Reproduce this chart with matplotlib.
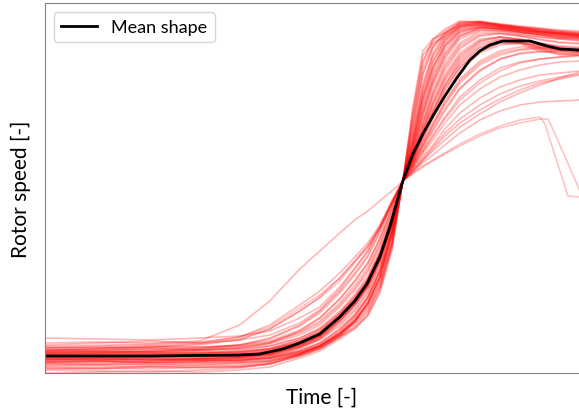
import matplotlib
matplotlib.use("Agg")
import matplotlib.pyplot as plt

plt.rcParams['font.family'] = ['Lato', 'DejaVu Sans']

# time axis (arbitrary units), shared by the shapes
time = [0, 55, 105, 155, 195, 225, 255, 275, 295, 310, 323, 335, 347,
        358, 368, 378, 388, 400, 415, 435, 455, 475, 495, 515, 535]

# individual normalised rotor speed shapes
shape_01 = [0, 1, 2, 1, 3, 6, 15, 22, 34, 44, 58, 82, 124, 192, 262, 318, 330, 336, 346, 350, 347, 345, 343, 341, 340]
shape_02 = [5, 4, 6, 5, 6, 9, 17, 24, 36, 46, 60, 85, 127, 192, 250, 305, 328, 340, 350, 352, 349, 346, 344, 342, 340]
shape_03 = [3, 2, 1, 3, 5, 9, 19, 27, 40, 52, 68, 92, 132, 192, 240, 290, 320, 338, 349, 350, 347, 345, 342, 340, 339]
shape_04 = [8, 9, 8, 10, 10, 12, 18, 25, 37, 51, 69, 95, 137, 192, 232, 278, 310, 333, 346, 348, 346, 343, 341, 339, 338]
shape_05 = [11, 12, 10, 12, 13, 15, 21, 28, 40, 53, 70, 95, 136, 192, 226, 268, 300, 326, 342, 347, 345, 342, 340, 338, 337]
shape_06 = [14, 13, 14, 12, 14, 15, 20, 26, 38, 52, 70, 96, 138, 192, 222, 260, 292, 318, 337, 345, 344, 342, 340, 337, 336]
shape_07 = [16, 15, 16, 17, 16, 18, 23, 30, 44, 58, 76, 102, 142, 192, 218, 252, 283, 310, 330, 342, 342, 340, 338, 336, 335]
shape_08 = [12, 13, 12, 14, 15, 18, 27, 36, 54, 70, 88, 114, 149, 192, 216, 248, 278, 305, 326, 338, 340, 338, 336, 334, 333]
shape_09 = [15, 16, 17, 16, 17, 20, 27, 36, 52, 68, 86, 112, 148, 192, 214, 240, 266, 292, 314, 330, 334, 333, 330, 326, 324]
shape_10 = [17, 17, 18, 17, 18, 21, 30, 38, 55, 71, 89, 115, 150, 192, 215, 238, 262, 288, 310, 326, 332, 330, 324, 318, 318]
shape_11 = [19, 18, 19, 20, 20, 23, 31, 40, 57, 73, 91, 117, 152, 192, 213, 236, 258, 284, 306, 322, 330, 329, 322, 319, 320]
shape_12 = [20, 21, 20, 19, 21, 24, 30, 39, 56, 72, 90, 116, 151, 192, 216, 242, 270, 296, 318, 332, 336, 334, 330, 327, 326]
shape_13 = [21, 22, 21, 22, 23, 27, 35, 44, 60, 76, 94, 120, 154, 192, 210, 230, 250, 272, 294, 312, 322, 326, 326, 324, 322]
shape_14 = [24, 23, 25, 24, 26, 30, 40, 50, 68, 85, 103, 128, 160, 192, 208, 226, 244, 264, 285, 303, 314, 320, 322, 322, 321]
shape_15 = [26, 25, 27, 26, 28, 32, 43, 55, 74, 92, 110, 135, 165, 192, 207, 222, 238, 256, 276, 293, 305, 311, 314, 316, 318]
shape_16 = [22, 24, 23, 25, 28, 34, 47, 60, 80, 98, 116, 140, 168, 192, 205, 219, 233, 250, 268, 284, 296, 303, 308, 311, 312]
shape_17 = [18, 20, 22, 24, 28, 35, 48, 62, 82, 100, 118, 142, 170, 192, 204, 216, 228, 244, 260, 275, 286, 293, 298, 300, 302]
shape_18 = [28, 30, 32, 30, 33, 38, 50, 63, 84, 104, 122, 146, 172, 192, 202, 213, 224, 237, 250, 263, 274, 283, 290, 294, 298]
shape_19 = [25, 27, 28, 30, 36, 48, 68, 82, 100, 116, 130, 148, 172, 192, 202, 212, 222, 233, 246, 259, 271, 280, 288, 295, 301]
shape_20 = [23, 25, 26, 29, 34, 44, 62, 76, 95, 112, 126, 146, 170, 192, 201, 210, 218, 228, 240, 253, 262, 268, 271, 272, 273]
shape_21 = [35, 34, 33, 35, 37, 42, 55, 66, 86, 105, 122, 144, 168, 192, 209, 228, 247, 268, 290, 308, 318, 323, 324, 323, 322]
shape_22 = [30, 31, 30, 32, 48, 72, 104, 122, 140, 153, 162, 172, 182, 192, 203, 214, 226, 240, 254, 268, 279, 287, 292, 296, 299]
shape_23 = [13, 15, 13, 14, 13, 16, 21, 27, 39, 51, 66, 90, 130, 192, 255, 310, 332, 342, 351, 351, 348, 345, 342, 340, 338]
shape_24 = [10, 9, 11, 10, 11, 13, 19, 26, 38, 52, 70, 96, 138, 192, 245, 298, 325, 338, 348, 350, 348, 346, 344, 342, 341]
shape_25 = [18, 19, 18, 17, 18, 20, 26, 34, 49, 64, 82, 108, 146, 192, 228, 275, 305, 328, 343, 346, 344, 341, 339, 337, 336]
shape_26 = [16, 17, 16, 17, 18, 21, 28, 37, 53, 69, 87, 113, 149, 192, 220, 256, 288, 314, 334, 343, 342, 339, 336, 334, 332]
shape_27 = [20, 19, 20, 21, 21, 24, 32, 41, 58, 74, 92, 118, 153, 192, 214, 244, 272, 298, 320, 334, 336, 333, 328, 324, 322]
shape_28 = [14, 15, 14, 15, 16, 19, 28, 37, 55, 71, 89, 115, 150, 192, 213, 238, 262, 288, 312, 328, 333, 331, 325, 320, 318]
shape_29 = [25, 26, 25, 26, 27, 31, 41, 52, 70, 88, 106, 131, 162, 192, 211, 232, 254, 278, 302, 320, 328, 330, 328, 326, 325]
shape_30 = [9, 8, 9, 8, 10, 12, 19, 27, 41, 56, 75, 101, 141, 192, 236, 284, 316, 334, 347, 349, 347, 344, 341, 339, 338]
shape_31 = [22, 21, 22, 23, 24, 27, 35, 45, 62, 79, 97, 122, 156, 192, 209, 228, 248, 270, 292, 310, 320, 324, 325, 324, 323]
shape_32 = [7, 7, 6, 8, 8, 11, 19, 27, 39, 50, 64, 88, 129, 192, 258, 312, 334, 344, 352, 351, 348, 346, 344, 341, 339]
shape_33 = [6, 5, 7, 6, 7, 10, 18, 25, 37, 48, 62, 86, 128, 192, 248, 300, 326, 340, 350, 351, 348, 345, 342, 340, 339]
shape_34 = [12, 11, 12, 13, 12, 14, 20, 27, 39, 54, 72, 98, 140, 192, 238, 286, 318, 336, 347, 349, 346, 343, 341, 339, 337]
shape_35 = [4, 5, 4, 6, 6, 9, 17, 24, 36, 45, 57, 80, 122, 192, 266, 322, 334, 340, 348, 351, 349, 347, 345, 343, 342]
shape_36 = [15, 14, 15, 14, 15, 17, 22, 29, 42, 57, 75, 101, 141, 192, 230, 274, 306, 330, 344, 348, 346, 344, 342, 340, 338]
shape_37 = [10, 11, 10, 11, 12, 15, 22, 30, 44, 59, 77, 103, 143, 192, 225, 265, 297, 323, 340, 346, 345, 343, 341, 339, 337]
shape_38 = [17, 16, 17, 18, 17, 19, 25, 33, 47, 62, 80, 106, 145, 192, 221, 258, 290, 316, 336, 344, 343, 341, 339, 336, 335]
shape_39 = [18, 17, 18, 19, 19, 22, 30, 39, 56, 72, 90, 116, 151, 192, 217, 246, 276, 302, 324, 337, 339, 337, 334, 331, 330]
shape_40 = [13, 14, 13, 14, 16, 19, 28, 37, 55, 71, 89, 115, 150, 192, 214, 242, 268, 294, 316, 332, 336, 334, 328, 323, 322]
shape_41 = [21, 20, 21, 20, 22, 25, 33, 42, 59, 75, 93, 119, 153, 192, 212, 236, 260, 286, 308, 325, 332, 331, 326, 322, 321]
shape_42 = [16, 17, 16, 15, 17, 20, 29, 38, 55, 71, 89, 115, 150, 192, 219, 250, 280, 307, 328, 340, 340, 337, 333, 330, 329]
shape_43 = [11, 12, 11, 12, 13, 16, 25, 34, 51, 67, 85, 111, 147, 192, 224, 262, 294, 320, 338, 345, 344, 341, 338, 335, 334]
shape_44 = [19, 20, 19, 20, 21, 24, 33, 43, 60, 77, 95, 120, 154, 192, 212, 234, 256, 282, 305, 322, 330, 330, 327, 324, 322]
shape_45 = [14, 13, 14, 13, 15, 18, 26, 35, 52, 68, 86, 112, 148, 192, 233, 280, 312, 332, 345, 348, 346, 343, 340, 338, 336]
shape_46 = [17, 18, 17, 18, 19, 22, 31, 40, 57, 73, 91, 117, 152, 192, 228, 272, 304, 327, 341, 346, 344, 341, 338, 335, 334]
shape_47 = [23, 22, 24, 23, 25, 29, 38, 48, 66, 83, 101, 126, 158, 192, 207, 224, 242, 262, 284, 302, 314, 319, 321, 321, 320]
shape_48 = [20, 22, 21, 23, 25, 30, 42, 55, 74, 92, 110, 134, 164, 192, 206, 221, 236, 254, 273, 290, 302, 310, 314, 316, 317]

shapes = [shape_01, shape_02, shape_03, shape_04, shape_05, shape_06, shape_07, shape_08,
          shape_09, shape_10, shape_11, shape_12, shape_13, shape_14, shape_15, shape_16,
          shape_17, shape_18, shape_19, shape_20, shape_21, shape_22, shape_23, shape_24,
          shape_25, shape_26, shape_27, shape_28, shape_29, shape_30, shape_31, shape_32,
          shape_33, shape_34, shape_35, shape_36, shape_37, shape_38, shape_39, shape_40,
          shape_41, shape_42, shape_43, shape_44, shape_45, shape_46, shape_47, shape_48]

# two shapes that drop off at the end
drop_a_time = [0, 55, 105, 155, 195, 225, 255, 275, 295, 310, 323, 335, 347,
               358, 368, 378, 388, 400, 415, 435, 455, 475, 495, 500, 523, 535]
drop_a = [27, 28, 29, 31, 36, 46, 65, 78, 95, 112, 128, 146, 170,
          192, 200, 207, 213, 220, 229, 239, 247, 253, 256, 249, 177, 176]
drop_b_time = [0, 55, 105, 155, 195, 225, 255, 275, 295, 310, 323, 335, 347,
               358, 368, 378, 388, 400, 415, 435, 455, 475, 495, 503, 507, 535]
drop_b = [22, 24, 26, 28, 33, 44, 62, 75, 92, 110, 126, 145, 169,
          192, 199, 206, 212, 219, 227, 237, 245, 250, 254, 254, 246, 182]

# mean shape
mean_time = [0, 105, 195, 215, 238, 255, 275, 295, 310, 322, 335, 345, 358,
             368, 378, 388, 400, 412, 425, 435, 445, 458, 485, 502, 515, 535]
mean_shape = [17, 17, 18, 19, 24, 30, 39, 56, 72, 89, 116, 146, 192,
              219, 239, 257, 277, 295, 313, 322, 328, 332, 332, 327, 324, 323]

W, H = 579, 414
fig = plt.figure(figsize=(W / 100, H / 100), dpi=100)
ax = fig.add_axes([44.5 / W, 40 / H, (598 - 44.5) / W, 370 / H])

for s in shapes:
    ax.plot(time, s, color='red', alpha=0.28, lw=1.2)
ax.plot(drop_a_time, drop_a, color='red', alpha=0.25, lw=1.1)
ax.plot(drop_b_time, drop_b, color='red', alpha=0.25, lw=1.1)
ax.plot(mean_time, mean_shape, color='black', lw=2, label='Mean shape')

ax.set_xlim(0, 553)
ax.set_ylim(0, 370)
ax.set_xticks([])
ax.set_yticks([])
for sp in ax.spines.values():
    sp.set_color('0.5')

ax.set_xlabel('Time [-]', fontsize=15, labelpad=10)
ax.set_ylabel('Rotor speed [-]', fontsize=15, labelpad=10)
ax.legend(loc='upper left', fontsize=13, handlelength=2.0)

fig.savefig('out.png', dpi=100)
